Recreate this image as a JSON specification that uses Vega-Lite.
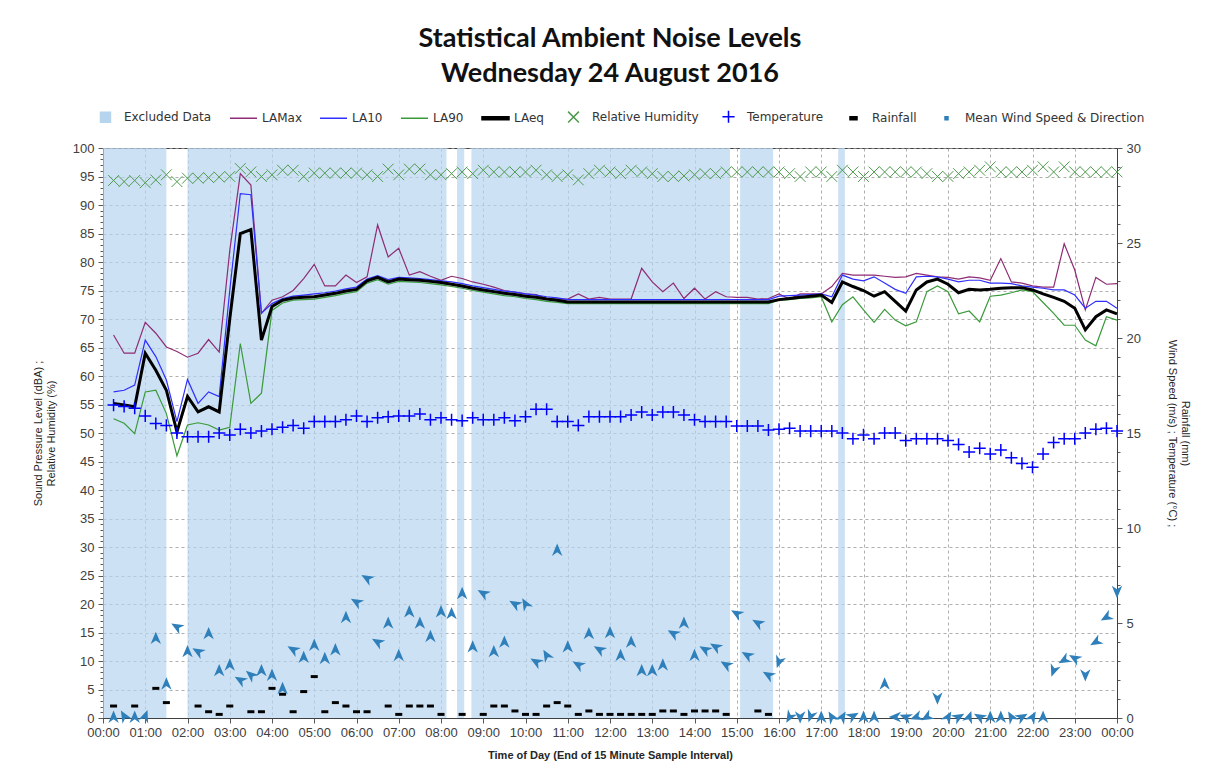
{
  "$schema": "https://vega.github.io/schema/vega-lite/v6.json",
  "width": 1014,
  "height": 570,
  "autosize": {"type": "none"},
  "padding": {"left": 103, "top": 148, "right": 89, "bottom": 66},
  "background": "white",
  "title": {
    "text": ["Statistical Ambient Noise Levels", "Wednesday 24 August 2016"],
    "font": "Lato", "fontSize": 27, "fontWeight": "bold", "color": "#111111",
    "anchor": "middle", "lineHeight": 35, "offset": 14
  },
  "datasets": {
    "excluded": [
      {"s": 0, "e": 1.5}, {"s": 2.0, "e": 8.13}, {"s": 8.38, "e": 8.55},
      {"s": 8.72, "e": 14.84}, {"s": 15.08, "e": 15.86}, {"s": 17.4, "e": 17.56}
    ],
    "noise": [
      {"t":0.25,"LAMax":67.2,"LA10":57.2,"LA90":52.5,"LAeq":55.2,"RH":94.3,"Temp":16.47,"Wind":0.05,"Dir":0,"Rain":0.63},
      {"t":0.5,"LAMax":64.0,"LA10":57.5,"LA90":51.7,"LAeq":54.9,"RH":94.1,"Temp":16.4,"Wind":0.1,"Dir":330,"Rain":null},
      {"t":0.75,"LAMax":64.0,"LA10":58.4,"LA90":49.9,"LAeq":54.6,"RH":94.3,"Temp":16.3,"Wind":0.05,"Dir":0,"Rain":0.63},
      {"t":1,"LAMax":69.4,"LA10":66.3,"LA90":57.2,"LAeq":64.0,"RH":93.9,"Temp":15.9,"Wind":0.1,"Dir":20,"Rain":null},
      {"t":1.25,"LAMax":67.5,"LA10":63.4,"LA90":57.5,"LAeq":61.0,"RH":94.4,"Temp":15.5,"Wind":4.2,"Dir":0,"Rain":1.56},
      {"t":1.5,"LAMax":65.1,"LA10":59.3,"LA90":53.4,"LAeq":57.5,"RH":95.3,"Temp":15.4,"Wind":1.8,"Dir":0,"Rain":0.81},
      {"t":1.75,"LAMax":64.3,"LA10":52.0,"LA90":46.0,"LAeq":50.2,"RH":94.1,"Temp":15.0,"Wind":4.8,"Dir":300,"Rain":null},
      {"t":2,"LAMax":63.3,"LA10":59.4,"LA90":51.4,"LAeq":56.4,"RH":94.7,"Temp":14.8,"Wind":3.5,"Dir":0,"Rain":null},
      {"t":2.25,"LAMax":64.0,"LA10":55.2,"LA90":51.8,"LAeq":53.7,"RH":94.7,"Temp":14.8,"Wind":3.5,"Dir":300,"Rain":0.63},
      {"t":2.5,"LAMax":66.4,"LA10":57.2,"LA90":51.4,"LAeq":54.6,"RH":94.8,"Temp":14.8,"Wind":4.45,"Dir":0,"Rain":0.33},
      {"t":2.75,"LAMax":64.2,"LA10":56.4,"LA90":50.5,"LAeq":53.7,"RH":94.9,"Temp":15.0,"Wind":2.5,"Dir":0,"Rain":0.19},
      {"t":3,"LAMax":82.0,"LA10":75.0,"LA90":51.0,"LAeq":70.0,"RH":95.0,"Temp":14.9,"Wind":2.8,"Dir":0,"Rain":0.63},
      {"t":3.25,"LAMax":95.5,"LA10":92.0,"LA90":65.7,"LAeq":85.0,"RH":96.4,"Temp":15.2,"Wind":2.0,"Dir":300,"Rain":null},
      {"t":3.5,"LAMax":93.5,"LA10":91.8,"LA90":55.2,"LAeq":85.7,"RH":95.8,"Temp":15.0,"Wind":2.26,"Dir":310,"Rain":0.33},
      {"t":3.75,"LAMax":71.0,"LA10":71.0,"LA90":57.0,"LAeq":66.3,"RH":95.0,"Temp":15.1,"Wind":2.5,"Dir":0,"Rain":0.33},
      {"t":4,"LAMax":73.3,"LA10":72.7,"LA90":71.5,"LAeq":72.2,"RH":95.3,"Temp":15.2,"Wind":2.26,"Dir":0,"Rain":1.56},
      {"t":4.25,"LAMax":73.9,"LA10":73.6,"LA90":72.8,"LAeq":73.3,"RH":96.1,"Temp":15.3,"Wind":1.56,"Dir":0,"Rain":1.25},
      {"t":4.5,"LAMax":75.0,"LA10":74.0,"LA90":73.3,"LAeq":73.7,"RH":96.1,"Temp":15.4,"Wind":3.6,"Dir":300,"Rain":0.33},
      {"t":4.75,"LAMax":77.1,"LA10":74.2,"LA90":73.4,"LAeq":73.8,"RH":95.0,"Temp":15.25,"Wind":3.2,"Dir":0,"Rain":1.39},
      {"t":5,"LAMax":79.6,"LA10":74.4,"LA90":73.5,"LAeq":73.9,"RH":95.6,"Temp":15.6,"Wind":3.84,"Dir":0,"Rain":2.18},
      {"t":5.25,"LAMax":75.8,"LA10":74.6,"LA90":73.8,"LAeq":74.2,"RH":95.6,"Temp":15.6,"Wind":3.14,"Dir":0,"Rain":0.33},
      {"t":5.5,"LAMax":75.8,"LA10":74.9,"LA90":74.1,"LAeq":74.5,"RH":95.6,"Temp":15.6,"Wind":3.6,"Dir":0,"Rain":0.81},
      {"t":5.75,"LAMax":77.7,"LA10":75.3,"LA90":74.5,"LAeq":74.9,"RH":95.6,"Temp":15.7,"Wind":5.3,"Dir":0,"Rain":0.63},
      {"t":6,"LAMax":76.4,"LA10":75.6,"LA90":74.8,"LAeq":75.2,"RH":95.6,"Temp":15.9,"Wind":6.1,"Dir":300,"Rain":0.33},
      {"t":6.25,"LAMax":77.4,"LA10":77.0,"LA90":76.3,"LAeq":76.7,"RH":95.3,"Temp":15.6,"Wind":7.35,"Dir":300,"Rain":0.33},
      {"t":6.5,"LAMax":86.5,"LA10":77.6,"LA90":76.9,"LAeq":77.3,"RH":95.0,"Temp":15.8,"Wind":4.0,"Dir":300,"Rain":null},
      {"t":6.75,"LAMax":80.9,"LA10":76.9,"LA90":76.1,"LAeq":76.5,"RH":96.3,"Temp":15.85,"Wind":5.0,"Dir":0,"Rain":0.63},
      {"t":7,"LAMax":82.4,"LA10":77.3,"LA90":76.6,"LAeq":77.0,"RH":95.3,"Temp":15.9,"Wind":3.3,"Dir":0,"Rain":0.19},
      {"t":7.25,"LAMax":77.7,"LA10":77.2,"LA90":76.5,"LAeq":76.9,"RH":96.3,"Temp":15.9,"Wind":5.6,"Dir":0,"Rain":0.63},
      {"t":7.5,"LAMax":78.3,"LA10":77.1,"LA90":76.4,"LAeq":76.8,"RH":96.3,"Temp":16.0,"Wind":5.0,"Dir":0,"Rain":0.63},
      {"t":7.75,"LAMax":77.5,"LA10":76.9,"LA90":76.2,"LAeq":76.6,"RH":95.3,"Temp":15.7,"Wind":4.3,"Dir":0,"Rain":0.63},
      {"t":8,"LAMax":76.8,"LA10":76.7,"LA90":76.0,"LAeq":76.4,"RH":95.3,"Temp":15.8,"Wind":5.6,"Dir":0,"Rain":0.19},
      {"t":8.25,"LAMax":77.5,"LA10":76.5,"LA90":75.7,"LAeq":76.1,"RH":95.5,"Temp":15.7,"Wind":5.5,"Dir":0,"Rain":null},
      {"t":8.5,"LAMax":77.1,"LA10":76.2,"LA90":75.4,"LAeq":75.8,"RH":95.8,"Temp":15.65,"Wind":6.56,"Dir":0,"Rain":0.19},
      {"t":8.75,"LAMax":76.5,"LA10":75.8,"LA90":75.0,"LAeq":75.4,"RH":95.5,"Temp":15.8,"Wind":3.75,"Dir":0,"Rain":null},
      {"t":9,"LAMax":76.1,"LA10":75.5,"LA90":74.7,"LAeq":75.1,"RH":96.1,"Temp":15.7,"Wind":6.56,"Dir":300,"Rain":0.19},
      {"t":9.25,"LAMax":75.6,"LA10":75.2,"LA90":74.4,"LAeq":74.8,"RH":95.8,"Temp":15.7,"Wind":3.5,"Dir":0,"Rain":0.63},
      {"t":9.5,"LAMax":75.0,"LA10":74.9,"LA90":74.1,"LAeq":74.5,"RH":95.8,"Temp":15.8,"Wind":4.0,"Dir":0,"Rain":0.63},
      {"t":9.75,"LAMax":74.7,"LA10":74.7,"LA90":73.9,"LAeq":74.3,"RH":95.8,"Temp":15.65,"Wind":6.0,"Dir":300,"Rain":0.37},
      {"t":10,"LAMax":74.4,"LA10":74.4,"LA90":73.6,"LAeq":74.0,"RH":95.8,"Temp":15.86,"Wind":6.0,"Dir":330,"Rain":0.19},
      {"t":10.25,"LAMax":74.3,"LA10":74.2,"LA90":73.4,"LAeq":73.8,"RH":96.1,"Temp":16.25,"Wind":2.96,"Dir":300,"Rain":0.19},
      {"t":10.5,"LAMax":73.6,"LA10":73.9,"LA90":73.1,"LAeq":73.5,"RH":95.3,"Temp":16.25,"Wind":3.3,"Dir":330,"Rain":0.63},
      {"t":10.75,"LAMax":73.5,"LA10":73.7,"LA90":72.9,"LAeq":73.3,"RH":95.0,"Temp":15.6,"Wind":8.84,"Dir":0,"Rain":0.81},
      {"t":11,"LAMax":73.5,"LA10":73.4,"LA90":72.7,"LAeq":73.0,"RH":95.3,"Temp":15.6,"Wind":3.75,"Dir":0,"Rain":0.63},
      {"t":11.25,"LAMax":74.4,"LA10":73.4,"LA90":72.7,"LAeq":73.0,"RH":94.4,"Temp":15.4,"Wind":2.8,"Dir":300,"Rain":0.19},
      {"t":11.5,"LAMax":73.5,"LA10":73.4,"LA90":72.7,"LAeq":73.0,"RH":95.5,"Temp":15.86,"Wind":4.45,"Dir":0,"Rain":0.37},
      {"t":11.75,"LAMax":73.8,"LA10":73.4,"LA90":72.7,"LAeq":73.0,"RH":96.1,"Temp":15.86,"Wind":3.6,"Dir":300,"Rain":0.19},
      {"t":12,"LAMax":73.5,"LA10":73.4,"LA90":72.7,"LAeq":73.0,"RH":95.8,"Temp":15.86,"Wind":4.5,"Dir":0,"Rain":0.19},
      {"t":12.25,"LAMax":73.5,"LA10":73.4,"LA90":72.7,"LAeq":73.0,"RH":95.5,"Temp":15.86,"Wind":3.3,"Dir":0,"Rain":0.19},
      {"t":12.5,"LAMax":73.5,"LA10":73.4,"LA90":72.7,"LAeq":73.0,"RH":96.1,"Temp":15.95,"Wind":4.0,"Dir":0,"Rain":0.19},
      {"t":12.75,"LAMax":78.9,"LA10":73.4,"LA90":72.7,"LAeq":73.0,"RH":95.8,"Temp":16.1,"Wind":2.5,"Dir":0,"Rain":0.19},
      {"t":13,"LAMax":76.5,"LA10":73.4,"LA90":72.7,"LAeq":73.0,"RH":95.5,"Temp":15.95,"Wind":2.5,"Dir":0,"Rain":0.19},
      {"t":13.25,"LAMax":74.8,"LA10":73.4,"LA90":72.7,"LAeq":73.0,"RH":95.0,"Temp":16.1,"Wind":2.8,"Dir":0,"Rain":0.37},
      {"t":13.5,"LAMax":76.3,"LA10":73.4,"LA90":72.7,"LAeq":73.0,"RH":95.0,"Temp":16.1,"Wind":4.45,"Dir":300,"Rain":0.37},
      {"t":13.75,"LAMax":73.6,"LA10":73.4,"LA90":72.7,"LAeq":73.0,"RH":95.1,"Temp":15.95,"Wind":5.0,"Dir":0,"Rain":0.19},
      {"t":14,"LAMax":75.4,"LA10":73.4,"LA90":72.7,"LAeq":73.0,"RH":95.3,"Temp":15.7,"Wind":3.3,"Dir":0,"Rain":0.37},
      {"t":14.25,"LAMax":73.5,"LA10":73.4,"LA90":72.7,"LAeq":73.0,"RH":95.5,"Temp":15.6,"Wind":3.6,"Dir":300,"Rain":0.37},
      {"t":14.5,"LAMax":74.8,"LA10":73.4,"LA90":72.7,"LAeq":73.0,"RH":95.5,"Temp":15.6,"Wind":3.75,"Dir":300,"Rain":0.37},
      {"t":14.75,"LAMax":73.9,"LA10":73.4,"LA90":72.7,"LAeq":73.0,"RH":95.8,"Temp":15.6,"Wind":2.8,"Dir":300,"Rain":0.19},
      {"t":15,"LAMax":73.8,"LA10":73.4,"LA90":72.7,"LAeq":73.0,"RH":95.8,"Temp":15.37,"Wind":5.5,"Dir":300,"Rain":null},
      {"t":15.25,"LAMax":73.8,"LA10":73.4,"LA90":72.7,"LAeq":73.0,"RH":95.8,"Temp":15.37,"Wind":3.3,"Dir":300,"Rain":null},
      {"t":15.5,"LAMax":73.5,"LA10":73.4,"LA90":72.7,"LAeq":73.0,"RH":95.8,"Temp":15.37,"Wind":5.0,"Dir":300,"Rain":0.37},
      {"t":15.75,"LAMax":73.6,"LA10":73.4,"LA90":72.7,"LAeq":73.0,"RH":95.8,"Temp":15.16,"Wind":2.26,"Dir":300,"Rain":0.19},
      {"t":16,"LAMax":74.4,"LA10":74.0,"LA90":73.3,"LAeq":73.4,"RH":95.8,"Temp":15.2,"Wind":2.96,"Dir":200,"Rain":null},
      {"t":16.25,"LAMax":73.5,"LA10":74.1,"LA90":73.4,"LAeq":73.6,"RH":95.5,"Temp":15.25,"Wind":0.05,"Dir":210,"Rain":null},
      {"t":16.5,"LAMax":74.4,"LA10":74.2,"LA90":73.6,"LAeq":73.8,"RH":95.0,"Temp":15.1,"Wind":0.05,"Dir":180,"Rain":null},
      {"t":16.75,"LAMax":74.4,"LA10":74.3,"LA90":73.7,"LAeq":74.0,"RH":95.8,"Temp":15.1,"Wind":0.1,"Dir":200,"Rain":null},
      {"t":17,"LAMax":74.4,"LA10":74.4,"LA90":73.9,"LAeq":74.2,"RH":95.8,"Temp":15.1,"Wind":0.05,"Dir":0,"Rain":null},
      {"t":17.25,"LAMax":75.7,"LA10":73.9,"LA90":69.5,"LAeq":72.9,"RH":95.0,"Temp":15.1,"Wind":0.05,"Dir":330,"Rain":null},
      {"t":17.5,"LAMax":78.0,"LA10":77.7,"LA90":72.5,"LAeq":76.5,"RH":96.1,"Temp":15.0,"Wind":0.05,"Dir":30,"Rain":null},
      {"t":17.75,"LAMax":77.7,"LA10":77.0,"LA90":73.9,"LAeq":75.7,"RH":95.8,"Temp":14.7,"Wind":0.1,"Dir":60,"Rain":null},
      {"t":18,"LAMax":77.7,"LA10":76.7,"LA90":71.6,"LAeq":75.0,"RH":95.0,"Temp":14.9,"Wind":0.05,"Dir":0,"Rain":null},
      {"t":18.25,"LAMax":77.7,"LA10":77.4,"LA90":69.4,"LAeq":74.0,"RH":95.8,"Temp":14.7,"Wind":0.05,"Dir":0,"Rain":null},
      {"t":18.5,"LAMax":77.5,"LA10":76.3,"LA90":71.7,"LAeq":74.8,"RH":95.8,"Temp":15.0,"Wind":1.8,"Dir":0,"Rain":null},
      {"t":18.75,"LAMax":77.3,"LA10":75.2,"LA90":69.8,"LAeq":73.1,"RH":95.8,"Temp":15.0,"Wind":0.05,"Dir":270,"Rain":null},
      {"t":19,"LAMax":77.4,"LA10":74.5,"LA90":68.8,"LAeq":71.4,"RH":95.8,"Temp":14.6,"Wind":0.05,"Dir":290,"Rain":null},
      {"t":19.25,"LAMax":78.0,"LA10":77.4,"LA90":69.5,"LAeq":75.1,"RH":95.8,"Temp":14.7,"Wind":0.05,"Dir":250,"Rain":null},
      {"t":19.5,"LAMax":77.7,"LA10":77.5,"LA90":74.8,"LAeq":76.5,"RH":95.5,"Temp":14.7,"Wind":0.05,"Dir":240,"Rain":null},
      {"t":19.75,"LAMax":77.4,"LA10":77.4,"LA90":75.8,"LAeq":77.0,"RH":95.0,"Temp":14.7,"Wind":1.04,"Dir":180,"Rain":null},
      {"t":20,"LAMax":77.3,"LA10":77.0,"LA90":74.8,"LAeq":76.1,"RH":95.0,"Temp":14.6,"Wind":0.05,"Dir":30,"Rain":null},
      {"t":20.25,"LAMax":77.0,"LA10":76.5,"LA90":70.9,"LAeq":74.6,"RH":95.5,"Temp":14.4,"Wind":0.05,"Dir":60,"Rain":null},
      {"t":20.5,"LAMax":77.4,"LA10":76.8,"LA90":71.4,"LAeq":75.2,"RH":95.8,"Temp":14.0,"Wind":0.05,"Dir":20,"Rain":null},
      {"t":20.75,"LAMax":77.2,"LA10":76.8,"LA90":69.5,"LAeq":75.1,"RH":96.1,"Temp":14.2,"Wind":0.05,"Dir":300,"Rain":null},
      {"t":21,"LAMax":76.8,"LA10":76.3,"LA90":74.0,"LAeq":75.2,"RH":96.7,"Temp":13.9,"Wind":0.05,"Dir":0,"Rain":null},
      {"t":21.25,"LAMax":80.6,"LA10":76.3,"LA90":74.2,"LAeq":75.4,"RH":95.8,"Temp":14.1,"Wind":0.05,"Dir":0,"Rain":null},
      {"t":21.5,"LAMax":76.5,"LA10":76.2,"LA90":74.6,"LAeq":75.5,"RH":95.8,"Temp":13.7,"Wind":0.05,"Dir":330,"Rain":null},
      {"t":21.75,"LAMax":76.3,"LA10":75.8,"LA90":75.1,"LAeq":75.5,"RH":95.8,"Temp":13.4,"Wind":0.05,"Dir":60,"Rain":null},
      {"t":22,"LAMax":75.8,"LA10":75.6,"LA90":74.8,"LAeq":75.1,"RH":96.1,"Temp":13.2,"Wind":0.05,"Dir":30,"Rain":null},
      {"t":22.25,"LAMax":75.6,"LA10":75.4,"LA90":72.9,"LAeq":74.4,"RH":96.7,"Temp":13.9,"Wind":0.05,"Dir":0,"Rain":null},
      {"t":22.5,"LAMax":75.6,"LA10":75.1,"LA90":71.0,"LAeq":73.8,"RH":95.8,"Temp":14.5,"Wind":2.5,"Dir":200,"Rain":null},
      {"t":22.75,"LAMax":83.2,"LA10":75.1,"LA90":68.9,"LAeq":73.1,"RH":96.7,"Temp":14.7,"Wind":3.05,"Dir":240,"Rain":null},
      {"t":23,"LAMax":78.6,"LA10":74.2,"LA90":68.9,"LAeq":71.9,"RH":95.8,"Temp":14.7,"Wind":3.14,"Dir":300,"Rain":null},
      {"t":23.25,"LAMax":71.6,"LA10":71.9,"LA90":66.3,"LAeq":68.1,"RH":95.8,"Temp":15.0,"Wind":2.26,"Dir":180,"Rain":null},
      {"t":23.5,"LAMax":77.3,"LA10":73.1,"LA90":65.3,"LAeq":70.4,"RH":95.8,"Temp":15.2,"Wind":4.0,"Dir":240,"Rain":null},
      {"t":23.75,"LAMax":76.1,"LA10":73.1,"LA90":70.4,"LAeq":71.6,"RH":95.8,"Temp":15.25,"Wind":5.3,"Dir":240,"Rain":null},
      {"t":24,"LAMax":76.2,"LA10":71.9,"LA90":69.8,"LAeq":70.9,"RH":95.8,"Temp":15.1,"Wind":6.65,"Dir":180,"Rain":null}
    ]
  },
  "layer": [
    {
      "layer": [
        {
          "data": {"name": "excluded"},
          "mark": {"type": "rect", "opacity": 0.7},
          "encoding": {
            "x": {"field": "s", "type": "quantitative", "scale": {"domain": [0, 24], "nice": false, "zero": false},
              "axis": {
                "values": [0,0.25,0.5,0.75,1,1.25,1.5,1.75,2,2.25,2.5,2.75,3,3.25,3.5,3.75,4,4.25,4.5,4.75,5,5.25,5.5,5.75,6,6.25,6.5,6.75,7,7.25,7.5,7.75,8,8.25,8.5,8.75,9,9.25,9.5,9.75,10,10.25,10.5,10.75,11,11.25,11.5,11.75,12,12.25,12.5,12.75,13,13.25,13.5,13.75,14,14.25,14.5,14.75,15,15.25,15.5,15.75,16,16.25,16.5,16.75,17,17.25,17.5,17.75,18,18.25,18.5,18.75,19,19.25,19.5,19.75,20,20.25,20.5,20.75,21,21.25,21.5,21.75,22,22.25,22.5,22.75,23,23.25,23.5,23.75,24],
                "labelExpr": "datum.value % 1 === 0 ? (datum.value === 24 ? '00:00' : (datum.value < 10 ? '0' : '') + datum.value + ':00') : ''",
                "labelOverlap": false, "labelFlush": false, "labelPadding": 3,
                "gridOpacity": {"condition": {"test": "datum.value % 0.5 === 0", "value": 1}, "value": 0},
                "tickSize": {"condition": {"test": "datum.value % 1 === 0", "value": 5}, "value": 3},
                "title": "Time of Day (End of 15 Minute Sample Interval)",
                "titleFontWeight": "bold", "titleFontSize": 11, "titlePadding": 10
              }},
            "x2": {"field": "e"},
            "color": {
              "datum": "Excluded Data", "type": "nominal",
              "scale": {
                "domain": ["Excluded Data", "LAMax", "LA10", "LA90", "LAeq", "Relative Humidity", "Temperature", "Rainfall", "Mean Wind Speed & Direction"],
                "range": ["#b7d4ee", "#8e2c74", "#2f2fff", "#3a9a3a", "#000000", "#4e9a4e", "#0000ff", "#000000", "#2e7fba"]
              },
              "legend": {
                "title": null, "orient": "none", "legendX": -12, "legendY": -46,
                "direction": "horizontal", "columns": 9, "columnPadding": 15,
                "labelFont": "DejaVu Sans", "labelFontSize": 12, "labelColor": "#333333", "labelOffset": 4, "labelLimit": 400
              }
            }
          }
        },
        {
          "data": {"name": "noise"},
          "mark": {"type": "point", "filled": false, "opacity": 1, "size": 729, "strokeWidth": 1},
          "encoding": {
            "x": {"field": "t", "type": "quantitative"},
            "y": {"field": "RH", "type": "quantitative",
              "scale": {"domain": [0, 100], "nice": false, "zero": true},
              "axis": {
                "orient": "left",
                "values": [0,1,2,3,4,5,6,7,8,9,10,11,12,13,14,15,16,17,18,19,20,21,22,23,24,25,26,27,28,29,30,31,32,33,34,35,36,37,38,39,40,41,42,43,44,45,46,47,48,49,50,51,52,53,54,55,56,57,58,59,60,61,62,63,64,65,66,67,68,69,70,71,72,73,74,75,76,77,78,79,80,81,82,83,84,85,86,87,88,89,90,91,92,93,94,95,96,97,98,99,100],
                "labelExpr": "datum.value % 5 === 0 ? datum.label : ''",
                "labelOverlap": false, "labelFlush": false, "labelPadding": 4, "grid": true,
                "gridOpacity": {"condition": {"test": "datum.value % 5 === 0", "value": 1}, "value": 0},
                "tickSize": {"condition": {"test": "datum.value % 5 === 0", "value": 5}, "value": 3},
                "title": ["Sound Pressure Level (dBA) ;", "Relative Humidity (%)"],
                "titleFontSize": 11, "titleFontWeight": "normal", "titlePadding": 16
              }},
            "color": {"datum": "Relative Humidity", "type": "nominal"},
            "shape": {"datum": "Relative Humidity", "type": "nominal", "legend": {"title": null},
              "scale": {"domain": ["Excluded Data", "LAMax", "LA10", "LA90", "LAeq", "Relative Humidity", "Temperature", "Rainfall", "Mean Wind Speed & Direction"],
                "range": ["M-0.37,-0.37H0.37V0.37H-0.37Z", "M-1,0H1", "M-1,0H1", "M-1,0H1", "M-1,-0.11H1V0.11H-1Z", "M-0.4,-0.4L0.4,0.4M0.4,-0.4L-0.4,0.4", "M-0.45,0H0.45M0,-0.45V0.45", "M-0.26,-0.11H0.26V0.11H-0.26Z", "M-0.11,-0.11H0.11V0.11H-0.11Z"]}}
          }
        },
        {
          "data": {"name": "noise"},
          "mark": {"type": "line", "strokeWidth": 1.2},
          "encoding": {
            "x": {"field": "t", "type": "quantitative"},
            "y": {"field": "LAMax", "type": "quantitative",
              "axis": {
                "orient": "left",
                "values": [0,1,2,3,4,5,6,7,8,9,10,11,12,13,14,15,16,17,18,19,20,21,22,23,24,25,26,27,28,29,30,31,32,33,34,35,36,37,38,39,40,41,42,43,44,45,46,47,48,49,50,51,52,53,54,55,56,57,58,59,60,61,62,63,64,65,66,67,68,69,70,71,72,73,74,75,76,77,78,79,80,81,82,83,84,85,86,87,88,89,90,91,92,93,94,95,96,97,98,99,100],
                "labelExpr": "datum.value % 5 === 0 ? datum.label : ''",
                "labelOverlap": false, "labelFlush": false, "labelPadding": 4, "grid": true,
                "gridOpacity": {"condition": {"test": "datum.value % 5 === 0", "value": 1}, "value": 0},
                "tickSize": {"condition": {"test": "datum.value % 5 === 0", "value": 5}, "value": 3},
                "title": ["Sound Pressure Level (dBA) ;", "Relative Humidity (%)"],
                "titleFontSize": 11, "titleFontWeight": "normal", "titlePadding": 16
              }},
            "color": {"datum": "LAMax", "type": "nominal"}
          }
        },
        {
          "data": {"name": "noise"},
          "mark": {"type": "line", "strokeWidth": 1.2},
          "encoding": {
            "x": {"field": "t", "type": "quantitative"},
            "y": {"field": "LA10", "type": "quantitative",
              "axis": {
                "orient": "left",
                "values": [0,1,2,3,4,5,6,7,8,9,10,11,12,13,14,15,16,17,18,19,20,21,22,23,24,25,26,27,28,29,30,31,32,33,34,35,36,37,38,39,40,41,42,43,44,45,46,47,48,49,50,51,52,53,54,55,56,57,58,59,60,61,62,63,64,65,66,67,68,69,70,71,72,73,74,75,76,77,78,79,80,81,82,83,84,85,86,87,88,89,90,91,92,93,94,95,96,97,98,99,100],
                "labelExpr": "datum.value % 5 === 0 ? datum.label : ''",
                "labelOverlap": false, "labelFlush": false, "labelPadding": 4, "grid": true,
                "gridOpacity": {"condition": {"test": "datum.value % 5 === 0", "value": 1}, "value": 0},
                "tickSize": {"condition": {"test": "datum.value % 5 === 0", "value": 5}, "value": 3},
                "title": ["Sound Pressure Level (dBA) ;", "Relative Humidity (%)"],
                "titleFontSize": 11, "titleFontWeight": "normal", "titlePadding": 16
              }},
            "color": {"datum": "LA10", "type": "nominal"}
          }
        },
        {
          "data": {"name": "noise"},
          "mark": {"type": "line", "strokeWidth": 1.2},
          "encoding": {
            "x": {"field": "t", "type": "quantitative"},
            "y": {"field": "LA90", "type": "quantitative",
              "axis": {
                "orient": "left",
                "values": [0,1,2,3,4,5,6,7,8,9,10,11,12,13,14,15,16,17,18,19,20,21,22,23,24,25,26,27,28,29,30,31,32,33,34,35,36,37,38,39,40,41,42,43,44,45,46,47,48,49,50,51,52,53,54,55,56,57,58,59,60,61,62,63,64,65,66,67,68,69,70,71,72,73,74,75,76,77,78,79,80,81,82,83,84,85,86,87,88,89,90,91,92,93,94,95,96,97,98,99,100],
                "labelExpr": "datum.value % 5 === 0 ? datum.label : ''",
                "labelOverlap": false, "labelFlush": false, "labelPadding": 4, "grid": true,
                "gridOpacity": {"condition": {"test": "datum.value % 5 === 0", "value": 1}, "value": 0},
                "tickSize": {"condition": {"test": "datum.value % 5 === 0", "value": 5}, "value": 3},
                "title": ["Sound Pressure Level (dBA) ;", "Relative Humidity (%)"],
                "titleFontSize": 11, "titleFontWeight": "normal", "titlePadding": 16
              }},
            "color": {"datum": "LA90", "type": "nominal"}
          }
        },
        {
          "data": {"name": "noise"},
          "mark": {"type": "line", "strokeWidth": 3},
          "encoding": {
            "x": {"field": "t", "type": "quantitative"},
            "y": {"field": "LAeq", "type": "quantitative",
              "axis": {
                "orient": "left",
                "values": [0,1,2,3,4,5,6,7,8,9,10,11,12,13,14,15,16,17,18,19,20,21,22,23,24,25,26,27,28,29,30,31,32,33,34,35,36,37,38,39,40,41,42,43,44,45,46,47,48,49,50,51,52,53,54,55,56,57,58,59,60,61,62,63,64,65,66,67,68,69,70,71,72,73,74,75,76,77,78,79,80,81,82,83,84,85,86,87,88,89,90,91,92,93,94,95,96,97,98,99,100],
                "labelExpr": "datum.value % 5 === 0 ? datum.label : ''",
                "labelOverlap": false, "labelFlush": false, "labelPadding": 4, "grid": true,
                "gridOpacity": {"condition": {"test": "datum.value % 5 === 0", "value": 1}, "value": 0},
                "tickSize": {"condition": {"test": "datum.value % 5 === 0", "value": 5}, "value": 3},
                "title": ["Sound Pressure Level (dBA) ;", "Relative Humidity (%)"],
                "titleFontSize": 11, "titleFontWeight": "normal", "titlePadding": 16
              }},
            "color": {"datum": "LAeq", "type": "nominal"}
          }
        }
      ]
    },
    {
      "layer": [
        {
          "data": {"name": "noise"},
          "mark": {"type": "point", "filled": false, "opacity": 1, "size": 729, "strokeWidth": 1.5},
          "encoding": {
            "x": {"field": "t", "type": "quantitative"},
            "y": {"field": "Temp", "type": "quantitative",
              "scale": {"domain": [0, 30], "nice": false, "zero": true},
              "axis": {
                "orient": "right",
                "values": [0,1,2,3,4,5,6,7,8,9,10,11,12,13,14,15,16,17,18,19,20,21,22,23,24,25,26,27,28,29,30],
                "labelExpr": "datum.value % 5 === 0 ? datum.label : ''",
                "labelOverlap": false, "labelFlush": false, "labelPadding": 4, "grid": false,
                "tickSize": {"condition": {"test": "datum.value % 5 === 0", "value": 5}, "value": 3},
                "title": ["Rainfall (mm)", "Wind Speed (m/s) ; Temperature (°C) ;"],
                "titleFontSize": 11, "titleFontWeight": "normal", "titlePadding": 26
              }},
            "color": {"datum": "Temperature", "type": "nominal"},
            "shape": {"datum": "Temperature", "type": "nominal", "legend": {"title": null}}
          }
        },
        {
          "data": {"name": "noise"},
          "mark": {"type": "point", "filled": true, "opacity": 1, "size": 729},
          "encoding": {
            "x": {"field": "t", "type": "quantitative"},
            "y": {"field": "Rain", "type": "quantitative",
              "axis": {
                "orient": "right",
                "values": [0,1,2,3,4,5,6,7,8,9,10,11,12,13,14,15,16,17,18,19,20,21,22,23,24,25,26,27,28,29,30],
                "labelExpr": "datum.value % 5 === 0 ? datum.label : ''",
                "labelOverlap": false, "labelFlush": false, "labelPadding": 4, "grid": false,
                "tickSize": {"condition": {"test": "datum.value % 5 === 0", "value": 5}, "value": 3},
                "title": ["Rainfall (mm)", "Wind Speed (m/s) ; Temperature (°C) ;"],
                "titleFontSize": 11, "titleFontWeight": "normal", "titlePadding": 26
              }},
            "color": {"datum": "Rainfall", "type": "nominal"},
            "shape": {"datum": "Rainfall", "type": "nominal", "legend": {"title": null}}
          }
        },
        {
          "data": {"name": "noise"},
          "mark": {"type": "point", "shape": "M0,-1L0.8,0.9L0,0.35L-0.8,0.9Z", "size": 170, "filled": true, "opacity": 1},
          "encoding": {
            "x": {"field": "t", "type": "quantitative"},
            "y": {"field": "Wind", "type": "quantitative",
              "axis": {
                "orient": "right",
                "values": [0,1,2,3,4,5,6,7,8,9,10,11,12,13,14,15,16,17,18,19,20,21,22,23,24,25,26,27,28,29,30],
                "labelExpr": "datum.value % 5 === 0 ? datum.label : ''",
                "labelOverlap": false, "labelFlush": false, "labelPadding": 4, "grid": false,
                "tickSize": {"condition": {"test": "datum.value % 5 === 0", "value": 5}, "value": 3},
                "title": ["Rainfall (mm)", "Wind Speed (m/s) ; Temperature (°C) ;"],
                "titleFontSize": 11, "titleFontWeight": "normal", "titlePadding": 26
              }},
            "angle": {"field": "Dir", "type": "quantitative", "scale": null},
            "color": {"datum": "Mean Wind Speed & Direction", "type": "nominal"}
          }
        }
      ]
    }
  ],
  "resolve": {"scale": {"y": "independent"}},
  "config": {
    "view": {"stroke": "#404040", "strokeWidth": 1},
    "legend": {"symbolOpacity": 1, "symbolSize": 729, "symbolStrokeWidth": 1.5},
    "axis": {
      "labelFont": "Liberation Sans", "labelFontSize": 13, "labelColor": "#404040",
      "titleFont": "Liberation Sans", "titleColor": "#262626", "labelOverlap": false,
      "tickColor": "#595959", "domainColor": "#404040",
      "gridColor": "#9a9a9a", "gridDash": [3, 3], "gridWidth": 0.8
    }
  }
}
